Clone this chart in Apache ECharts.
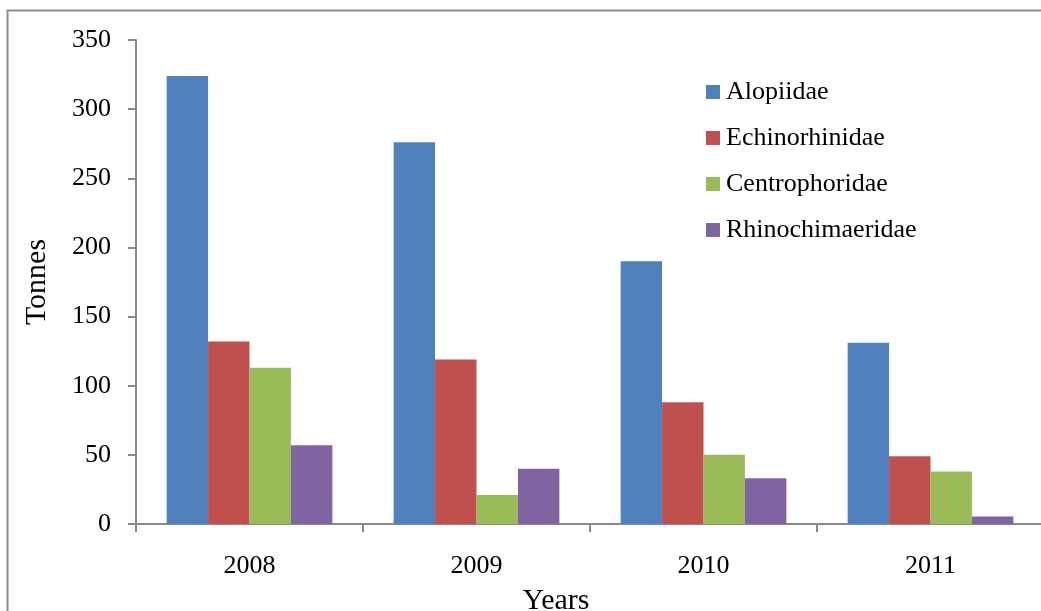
<!DOCTYPE html>
<html>
<head>
<meta charset="utf-8">
<title>Catches by family</title>
<script src="https://cdn.jsdelivr.net/npm/echarts@6/dist/echarts.min.js"></script>
<style>
  html, body { margin: 0; padding: 0; background: #ffffff; }
  #chart { width: 1041px; height: 611px; }
</style>
</head>
<body>
<div id="chart"></div>
<script>
// Landings per family, in tonnes
const years = ['2008', '2009', '2010', '2011'];
const alopiidae = [324, 276, 190, 131];
const echinorhinidae = [132, 119, 88, 49];
const centrophoridae = [113, 21, 50, 38];
const rhinochimaeridae = [57, 40, 33, 5.5];
const yTicks = { min: 0, max: 350, interval: 50 };

const serif = '"Liberation Serif", "Times New Roman", serif';
const axisGray = '#898989';

function barSeries(name, data, color) {
  return {
    name: name,
    type: 'bar',
    data: data,
    barGap: '0%',
    barCategoryGap: '27%',
    itemStyle: { color: color },
    emphasis: { disabled: true }
  };
}

const chart = echarts.init(document.getElementById('chart'), null, { renderer: 'canvas' });
chart.setOption({
  animation: false,
  graphic: [{
    type: 'rect',
    shape: { x: 7.5, y: 10.5, width: 1040, height: 640 },
    style: { fill: 'none', stroke: '#8c8c8c', lineWidth: 2 },
    silent: true,
    z: -1
  }],
  grid: { left: 136, top: 40, width: 908, height: 484, containLabel: false, outerBoundsMode: 'none' },
  legend: {
    orient: 'vertical',
    left: 701,
    top: 74,
    itemWidth: 14,
    itemHeight: 14,
    itemGap: 20,
    icon: 'rect',
    textStyle: { fontFamily: serif, fontSize: 26, color: '#000', padding: [0, 0, 0, 1] },
    data: ['Alopiidae', 'Echinorhinidae', 'Centrophoridae', 'Rhinochimaeridae']
  },
  xAxis: {
    type: 'category',
    data: years,
    name: 'Years',
    nameLocation: 'middle',
    nameGap: 62,
    // the title sits a little left of the axis centre
    nameTextStyle: { fontFamily: serif, fontSize: 30, color: '#000', padding: [0, 68, 0, 0] },
    axisLine: { lineStyle: { color: axisGray, width: 2 } },
    axisTick: { show: true, length: 8, lineStyle: { color: axisGray, width: 2 } },
    axisLabel: { fontFamily: serif, fontSize: 26, color: '#000', margin: 29 }
  },
  yAxis: {
    type: 'value',
    min: yTicks.min,
    max: yTicks.max,
    interval: yTicks.interval,
    name: 'Tonnes',
    nameLocation: 'middle',
    nameGap: 84,
    nameRotate: 90,
    nameTextStyle: { fontFamily: serif, fontSize: 30, color: '#000' },
    splitLine: { show: false },
    axisLine: { show: true, lineStyle: { color: axisGray, width: 2 } },
    axisTick: { show: true, length: 8, lineStyle: { color: axisGray, width: 2 } },
    axisLabel: { fontFamily: serif, fontSize: 26, color: '#000', margin: 25 }
  },
  series: [
    barSeries('Alopiidae', alopiidae, '#4F81BD'),
    barSeries('Echinorhinidae', echinorhinidae, '#C0504D'),
    barSeries('Centrophoridae', centrophoridae, '#9BBB59'),
    barSeries('Rhinochimaeridae', rhinochimaeridae, '#8064A2')
  ]
});
</script>
</body>
</html>
